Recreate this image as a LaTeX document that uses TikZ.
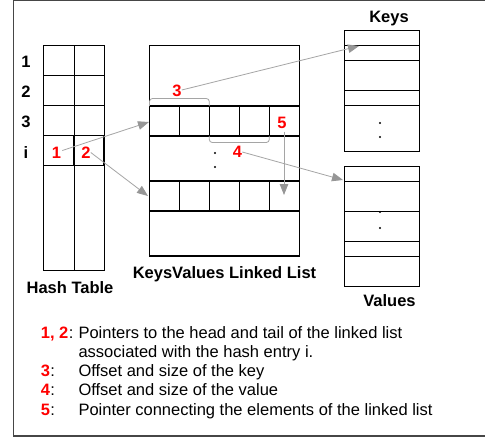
\documentclass[tikz,border=0pt]{standalone}
\usepackage{fontspec}
\setmainfont{Liberation Sans}
\usetikzlibrary{arrows.meta}
\definecolor{ptrgray}{RGB}{165,165,165}
\definecolor{tipgray}{RGB}{150,150,150}
\definecolor{framegray}{RGB}{70,70,70}
\definecolor{numred}{RGB}{255,0,0}
\tikzset{
  cellline/.style={draw=black, line width=0.8pt},
  boldline/.style={draw=black, line width=1.5pt},
  rowline/.style={draw=black, line width=1.1pt},
  lbl/.style={font=\fontsize{16.5}{19}\selectfont\bfseries, inner sep=0pt},
  rednum/.style={lbl, text=numred},
  legtext/.style={font=\fontsize{16.5}{19}\selectfont, inner sep=0pt, anchor=base west},
  legnum/.style={legtext, text=numred, font=\fontsize{16.5}{19}\selectfont\bfseries},
  ptr/.style={draw=ptrgray, line width=0.8pt, -{Triangle[length=11pt,width=8.5pt,fill=tipgray,color=tipgray]}},
  bracket/.style={draw=ptrgray, line width=0.8pt, rounded corners=3pt},
  dotmark/.style={fill=black}
}
\begin{document}
\begin{tikzpicture}[x=1pt,y=-1pt]
\useasboundingbox (0,0) rectangle (485,437);
\fill[white] (0,0) rectangle (485,437);
% frame
\draw[framegray, line width=1.3pt] (485,0.7) -- (13.5,0.7) -- (13.5,436) -- (485,436);

% Hash table
\draw[cellline] (43.5,45.7) rectangle (104,270.7);
\draw[cellline] (74,45.7) -- (74,270.7);
\draw[cellline] (43.5,75.7) -- (104,75.7);
\draw[cellline] (43.5,105.7) -- (104,105.7);
\draw[boldline] (43.5,135.7) rectangle (104,165.7);
\draw[boldline] (74,135.7) -- (74,165.7);
\node[lbl] (r1) at (26,62) {1};
\node[lbl] (r2) at (26,92) {2};
\node[lbl] (r3) at (26,122) {3};
\node[lbl] (ri) at (26,153) {i};
\node[lbl, anchor=base] (ht) at (70,293) {Hash Table};

% Linked list
\draw[rowline] (149.3,45.7) rectangle (299.3,256);
\foreach \ya/\yb in {106/136, 181/211}{
  \draw[rowline] (149.3,\ya) rectangle (299.3,\yb);
  \foreach \xx in {179.3,209.3,239.3,269.3}
    \draw[rowline] (\xx,\ya) -- (\xx,\yb);
}
\fill[dotmark] (215,153) circle (1.1);
\fill[dotmark] (215,167) circle (1.1);
\node[lbl, anchor=base] (kvl) at (224.5,278) {KeysValues Linked List};

% Keys box
\draw[cellline] (344,30) rectangle (419,151);
\foreach \yy in {45,60,90,105} \draw[cellline] (344,\yy) -- (419,\yy);
\fill[dotmark] (380,123) circle (1.1);
\fill[dotmark] (380,137) circle (1.1);
\node[lbl, anchor=base] (keys) at (389,22.5) {Keys};

% Values box
\draw[cellline] (344,166) rectangle (419,286);
\foreach \yy in {181,211,241,256} \draw[cellline] (344,\yy) -- (419,\yy);
\fill[dotmark] (380,212) circle (1.1);
\fill[dotmark] (380,228) circle (1.1);
\node[lbl, anchor=base] (vals) at (389.5,306.7) {Values};

% brackets
\draw[bracket] (149.5,106) -- (149.5,98.5) -- (209.3,98.5) -- (209.3,106);
\draw[bracket] (209.3,136) -- (209.3,142.5) -- (269.3,142.5) -- (269.3,136);

% red numbers
\node[rednum] (n1) at (56.5,152.5) {1};
\node[rednum] (n2) at (86,152.5) {2};
\node[rednum] (n3) at (177,91) {3};
\node[rednum] (n4) at (237.5,152) {4};
\node[rednum] (n5) at (282,122.7) {5};

% targets
\coordinate (t1) at (149,122);
\coordinate (t2) at (148,196);
\coordinate (t3) at (359,46);
\coordinate (t4) at (343,180);
\coordinate (t5) at (284,195);

\draw[ptr] (n1.east) ++(1,-2) -- (t1);
\draw[ptr] (n2.east) -- (t2);
\draw[ptr] (n3.east) ++(0,-1) -- (t3);
\draw[ptr] (n4.east) -- (t4);
\draw[ptr] (n5.south) ++(2,3) -- (t5);

% legend
\node[legnum] (l12) at (40.7,338.3) {1, 2};
\node[legtext] (l12c) at (l12.base east) {:};
\node[legtext] (l12t) at (78.3,338.3) {Pointers to the head and tail of the linked list};
\node[legtext] (l12t2) at (78.3,357.3) {associated with the hash entry i.};
\node[legnum] (l3) at (40.7,376.7) {3};
\node[legtext] (l3c) at (l3.base east) {:};
\node[legtext] (l3t) at (78.3,376.7) {Offset and size of the key};
\node[legnum] (l4) at (40.7,395.7) {4};
\node[legtext] (l4c) at (l4.base east) {:};
\node[legtext] (l4t) at (78.3,395.7) {Offset and size of the value};
\node[legnum] (l5) at (40.7,415) {5};
\node[legtext] (l5c) at (l5.base east) {:};
\node[legtext] (l5t) at (78.3,415) {Pointer connecting the elements of the linked list};
\end{tikzpicture}
\end{document}
